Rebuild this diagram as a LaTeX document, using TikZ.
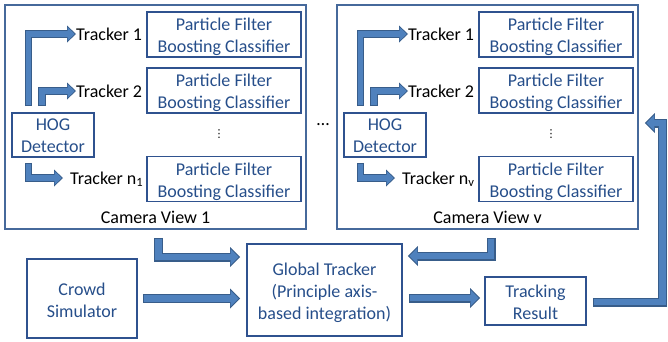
\documentclass[tikz,border=0pt]{standalone}
\usepackage{fontspec}
\setmainfont{Carlito}
\newfontfamily\dejavu{DejaVu Sans}
\usetikzlibrary{arrows.meta,calc}
\definecolor{boxblue}{RGB}{47,82,143}
\definecolor{txtblue}{RGB}{38,78,138}
\definecolor{camblue}{RGB}{70,105,155}
\definecolor{arrfill}{RGB}{79,129,189}
\definecolor{arredge}{RGB}{56,93,138}
\tikzset{
 box/.style={draw=boxblue, line width=1.8pt, inner sep=0pt},
 btxt/.style={text=txtblue, align=center, inner sep=0pt, font=\fontsize{18}{21.8}\selectfont},
 cam/.style={draw=camblue, line width=1.7pt, inner sep=0pt},
 lbl/.style={font=\fontsize{18}{22}\selectfont, text=black, inner sep=0pt},
 trk/.style={lbl, anchor=west, text height=12.6pt, text depth=0pt},
 bigout/.style={draw=arredge, line width=9pt, line join=miter, -{Triangle[width=20pt,length=10pt,line width=0pt]}},
 bigin/.style={draw=arrfill, line width=6.6pt, line join=miter, shorten <=1.2pt, shorten >=1.4pt, -{Triangle[width=16pt,length=8pt,line width=0pt]}},
 smallout/.style={draw=arredge, line width=7.5pt, line join=miter, -{Triangle[width=17pt,length=9pt,line width=0pt]}},
 smallin/.style={draw=arrfill, line width=5.3pt, line join=miter, shorten <=1.1pt, shorten >=1.3pt, -{Triangle[width=13.5pt,length=7pt,line width=0pt]}},
}
\newcommand\blockarr[2]{\draw[#1out] #2; \draw[#1in] #2;}
\begin{document}
\begin{tikzpicture}[x=1pt,y=-1pt]
\useasboundingbox (0,0) rectangle (668,341);
\foreach \dx/\vid/\vsub in {0/a/1, 332/b/v} {
 \begin{scope}[xshift=\dx pt]
  \node[cam, minimum width=301pt, minimum height=224pt] (cam\vid) at (155.5,117) {};
  \node[lbl] (camlbl\vid) at (155.5,217) {Camera View \vsub};
  \node[box, minimum width=154pt, minimum height=45pt, label={[btxt, yshift=-2.5pt]center:Particle Filter\\Boosting Classifier}] (pf\vid1) at (224,34.5) {};
  \node[box, minimum width=154pt, minimum height=45pt, label={[btxt, yshift=-2.5pt]center:Particle Filter\\Boosting Classifier}] (pf\vid2) at (224,90.5) {};
  \node[box, minimum width=154pt, minimum height=45pt, label={[btxt, yshift=-2.5pt]center:Particle Filter\\Boosting Classifier}] (pf\vid3) at (224,179) {};
  \node[lbl, font=\dejavu\fontsize{11}{11}\selectfont] (vd\vid) at (219,134) {⋮};
  \node[box, minimum width=82pt, minimum height=44pt, label={[btxt, yshift=-1pt]center:HOG\\Detector}] (hog\vid) at (53,135) {};
  \node[trk] (t\vid1) at (76,34) {Tracker 1};
  \node[trk] (t\vid2) at (76,91) {Tracker 2};
  \node[trk] (t\vid3) at (70,178) {Tracker n\textsubscript{\vsub}};
  \blockarr{small}{($(hog\vid.north west)+(17.5,-6)$) |- (t\vid1.west)}
  \blockarr{small}{($(hog\vid.north west)+(31,-6)$) |- (t\vid2.west)}
  \blockarr{small}{($(hog\vid.south west)+(17.5,5)$) |- ([xshift=-7pt]t\vid3.west)}
 \end{scope}
}
\node[lbl] (ell) at (323,125) {\ldots};
\node[box, minimum width=110pt, minimum height=79pt, label={[btxt, yshift=-1.5pt]center:Crowd\\Simulator}] (crowd) at (82,298.5) {};
\node[box, minimum width=155pt, minimum height=92pt, label={[btxt, yshift=-2.5pt]center:Global Tracker\\(Principle axis-\\based integration)}] (glob) at (324.5,290) {};
\node[box, minimum width=101pt, minimum height=48pt, label={[btxt, yshift=-1.5pt]center:Tracking\\Result}] (res) at (535.5,301) {};
\blockarr{big}{($(cama.south)+(3,8)$) |- ($(glob.west)+(-6,-33)$)}
\blockarr{big}{($(camb.south)+(3.5,8)$) |- ($(glob.east)+(5,-34)$)}
\blockarr{big}{($(crowd.east)+(5,0)$) -- ($(glob.west|-crowd.east)+(-6,0)$)}
\blockarr{big}{($(glob.east)+(6,8)$) -- ($(res.west)+(-4,-3)$)}
\coordinate (fb) at (662.5,200);
\coordinate (fs) at ($(res.east)+(6,1)$);
\blockarr{big}{(fs) -- (fs -| fb) |- ($(camb.east)+(6,6)$)}
\end{tikzpicture}
\end{document}
